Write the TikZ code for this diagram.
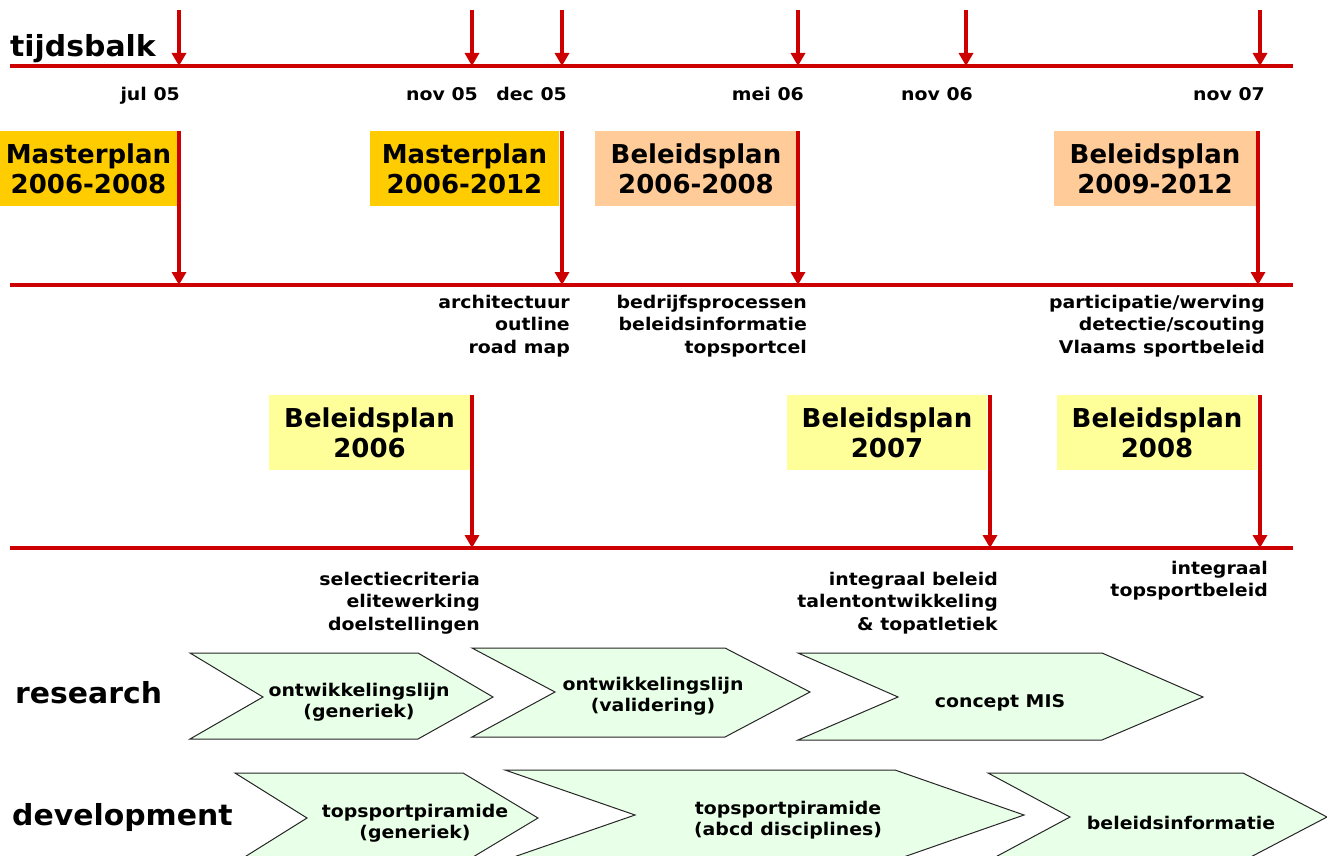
\documentclass[tikz,border=0pt]{standalone}
\usepackage{fontspec}
\setmainfont{DejaVu Sans}
\newfontfamily\bigf{DejaVu Sans}[FakeStretch=1.0]
\newfontfamily\lblf{DejaVu Sans}[FakeStretch=1.03]
\newfontfamily\smf{DejaVu Sans}[FakeStretch=1.08]
\usetikzlibrary{arrows.meta}
\definecolor{redl}{HTML}{CC0000}
\definecolor{mst}{HTML}{FFCC00}
\definecolor{peach}{HTML}{FFCC99}
\definecolor{lyel}{HTML}{FFFF99}
\definecolor{chev}{HTML}{E8FFE8}
\begin{document}
\begin{tikzpicture}[x=1pt,y=-1pt,
  hline/.style={draw=redl,line width=3.5pt},
  rarrow/.style={draw=redl,line width=3.5pt,-{Triangle[width=14pt,length=13pt]}},
  bigtxt/.style={font={\bigf\bfseries\fontsize{26}{30}\selectfont},align=center,inner sep=0pt},
  plan/.style={bigtxt,minimum height=75},
  lbl/.style={font={\lblf\bfseries\fontsize{29}{32}\selectfont},inner sep=0pt},
  date/.style={font={\smf\bfseries\fontsize{17.5}{20}\selectfont},inner sep=0pt,anchor=base east},
  note/.style={font={\smf\bfseries\fontsize{17.5}{22.3}\selectfont},inner sep=0pt,align=right,anchor=east},
  chevtxt/.style={font={\smf\bfseries\fontsize{17.5}{20.5}\selectfont},inner sep=0pt,align=center},
  chevron/.style={fill=chev,draw=black!85,line width=1pt,line join=miter}
]
\useasboundingbox (0,0) rectangle (1327,856);
\clip (0,0) rectangle (1327,856);

% ---------- time bar ----------
\node[lbl,anchor=base west] (tijd) at (10,57) {tijdsbalk};
\coordinate (L1a) at (10,66);  \coordinate (L1b) at (1293,66);
\coordinate (L2a) at (10,285); \coordinate (L2b) at (1293,285);
\coordinate (L3a) at (10,548); \coordinate (L3b) at (1293,548);
\draw[hline] (L1a) -- (L1b);
\draw[hline] (L2a) -- (L2b);
\draw[hline] (L3a) -- (L3b);

\foreach \i/\x in {1/179,2/472,3/562,4/798,5/966,6/1260}{
  \coordinate (ts\i) at (\x,10);
  \coordinate (te\i) at (\x,66);
  \draw[rarrow] (ts\i) -- (te\i);
}

\node[date] (d1) at (180,101) {jul 05};
\node[date] (d2) at (478,101) {nov 05};
\node[date] (d3) at (567,101) {dec 05};
\node[date] (d4) at (804,101) {mei 06};
\node[date] (d5) at (973,101) {nov 06};
\node[date] (d6) at (1265,101) {nov 07};

% ---------- row 2 ----------
\node[plan,fill=mst,minimum width=177] (mp1) at (88.5,168.5) {Masterplan\\2006-2008};
\node[plan,fill=mst,minimum width=189] (mp2) at (464.5,168.5) {Masterplan\\2006-2012};
\node[plan,fill=peach,minimum width=202] (bp1) at (696,168.5) {Beleidsplan\\2006-2008};
\node[plan,fill=peach,minimum width=202] (bp2) at (1155,168.5) {Beleidsplan\\2009-2012};

\foreach \i/\x in {1/179,2/562,3/798,4/1258}{
  \coordinate (rs\i) at (\x,131);
  \coordinate (re\i) at (\x,285);
  \draw[rarrow] (rs\i) -- (re\i);
}

\node[note] (n1) at (570,326) {architectuur\\outline\\road map};
\node[note] (n2) at (807,326) {bedrijfsprocessen\\beleidsinformatie\\topsportcel};
\node[note] (n3) at (1265,326) {participatie/werving\\detectie/scouting\\Vlaams sportbeleid};

% ---------- row 3 ----------
\node[plan,fill=lyel,minimum width=201] (b06) at (369.5,432.5) {Beleidsplan\\2006};
\node[plan,fill=lyel,minimum width=200] (b07) at (887,432.5) {Beleidsplan\\2007};
\node[plan,fill=lyel,minimum width=200] (b08) at (1157,432.5) {Beleidsplan\\2008};

\foreach \i/\x in {1/472,2/990,3/1260}{
  \coordinate (ss\i) at (\x,395);
  \coordinate (se\i) at (\x,548);
  \draw[rarrow] (ss\i) -- (se\i);
}

\node[note] (n4) at (480,603) {selectiecriteria\\elitewerking\\doelstellingen};
\node[note] (n5) at (998,603) {integraal beleid\\talentontwikkeling\\\& topatletiek};
\node[note] (n6) at (1268,581) {integraal\\topsportbeleid};

% ---------- research ----------
\node[lbl,anchor=base west] (res) at (15,703) {research};
\draw[chevron] (190,653) -- (418,653) -- (493,697) -- (418,739) -- (190,739) -- (263,697) -- cycle;
\draw[chevron] (472,648) -- (725,648) -- (810,692) -- (725,737) -- (472,737) -- (555,692) -- cycle;
\draw[chevron] (798,653) -- (1102,653) -- (1203,697) -- (1102,740) -- (798,740) -- (898,697) -- cycle;
\node[chevtxt] (r1) at (359,702) {ontwikkelingslijn\\(generiek)};
\node[chevtxt] (r2) at (653,696) {ontwikkelingslijn\\(validering)};
\node[chevtxt] (r3) at (1000,703) {concept MIS};

% ---------- development ----------
\node[lbl,anchor=base west] (dev) at (12,825) {development};
\draw[chevron] (235,773) -- (463,773) -- (538,818) -- (463,863) -- (235,863) -- (307,818) -- cycle;
\draw[chevron] (505,770) -- (895,770) -- (1024,815) -- (895,860) -- (505,860) -- (635,815) -- cycle;
\draw[chevron] (988,773) -- (1243,773) -- (1327,817) -- (1243,861) -- (988,861) -- (1070,817) -- cycle;
\node[chevtxt] (dv1) at (415,823) {topsportpiramide\\(generiek)};
\node[chevtxt] (dv2) at (788,820) {topsportpiramide\\(abcd disciplines)};
\node[chevtxt] (dv3) at (1181,823) {beleidsinformatie};
\end{tikzpicture}
\end{document}
